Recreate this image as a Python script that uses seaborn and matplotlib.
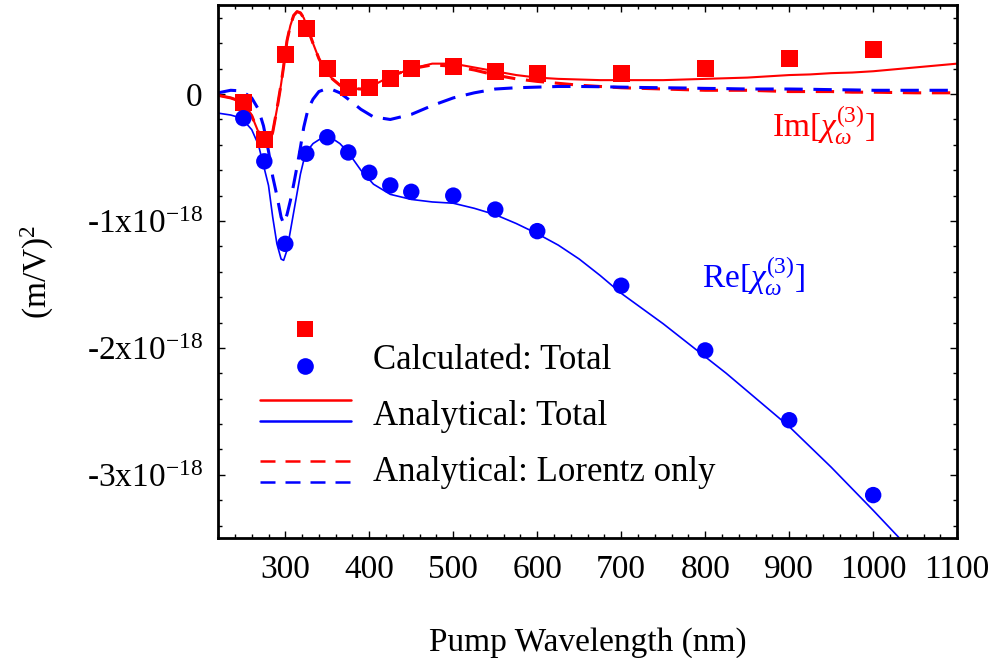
import numpy as np
import pandas as pd
import matplotlib
matplotlib.use("Agg")
import matplotlib.pyplot as plt
import seaborn as sns
from matplotlib.ticker import MultipleLocator, FuncFormatter
from matplotlib.legend_handler import HandlerBase
from matplotlib.lines import Line2D

# values in units of 1e-18 (m/V)^2
calc_wl = [250, 275, 300, 325, 350, 375, 400, 425, 450, 500, 550, 600, 700, 800, 900, 1000]
im_calc = [-0.07, -0.36, 0.31, 0.52, 0.20, 0.05, 0.05, 0.12, 0.20, 0.22, 0.18, 0.16, 0.16, 0.20, 0.28, 0.35]
re_calc = [-0.19, -0.53, -1.18, -0.47, -0.34, -0.46, -0.62, -0.72, -0.77, -0.80, -0.91, -1.08, -1.51, -2.02, -2.57, -3.16]

an_wl = [220, 235, 248, 260, 268, 274, 280, 285, 290, 295, 298, 302, 306, 310, 314, 318, 322, 327,
         333, 340, 348, 356, 365, 375, 390, 405, 425, 450, 475, 500, 525, 550, 575, 600, 625, 650,
         675, 700, 725, 750, 775, 800, 825, 850, 875, 900, 925, 950, 975, 1000, 1050, 1100]
im_total = [-0.01, -0.03, -0.06, -0.17, -0.30, -0.38, -0.40, -0.30, -0.12, 0.08, 0.22, 0.42, 0.54, 0.62,
            0.65, 0.64, 0.60, 0.51, 0.40, 0.28, 0.18, 0.12, 0.07, 0.045, 0.04, 0.07, 0.14, 0.20, 0.24,
            0.24, 0.21, 0.18, 0.15, 0.13, 0.12, 0.115, 0.11, 0.11, 0.11, 0.11, 0.115, 0.12, 0.125, 0.13,
            0.14, 0.15, 0.155, 0.165, 0.17, 0.18, 0.21, 0.24]
im_lorentz = [-0.01, -0.03, -0.06, -0.17, -0.30, -0.38, -0.40, -0.30, -0.12, 0.08, 0.22, 0.42, 0.54, 0.62,
              0.65, 0.64, 0.60, 0.51, 0.40, 0.28, 0.18, 0.12, 0.07, 0.045, 0.04, 0.07, 0.14, 0.20, 0.23,
              0.22, 0.19, 0.15, 0.12, 0.10, 0.085, 0.07, 0.06, 0.05, 0.045, 0.04, 0.035, 0.03, 0.03, 0.03,
              0.025, 0.02, 0.02, 0.02, 0.015, 0.015, 0.01, 0.01]
re_total = [-0.15, -0.165, -0.19, -0.28, -0.40, -0.56, -0.72, -0.97, -1.18, -1.30, -1.31, -1.23, -1.08,
            -0.93, -0.78, -0.63, -0.52, -0.44, -0.39, -0.36, -0.34, -0.35, -0.39, -0.46, -0.60, -0.71,
            -0.79, -0.83, -0.85, -0.86, -0.90, -0.95, -1.02, -1.10, -1.19, -1.30, -1.43, -1.57, -1.69,
            -1.81, -1.94, -2.07, -2.20, -2.34, -2.48, -2.62, -2.78, -2.94, -3.11, -3.28, -3.63, -4.00]
re_lorentz = [0.01, 0.03, 0.025, -0.03, -0.12, -0.25, -0.45, -0.65, -0.80, -0.97, -1.02, -0.95, -0.84,
              -0.71, -0.57, -0.42, -0.26, -0.12, -0.04, 0.02, 0.04, 0.035, 0.01, -0.04, -0.12, -0.18,
              -0.20, -0.16, -0.09, -0.03, 0.01, 0.04, 0.05, 0.055, 0.06, 0.06, 0.058, 0.055, 0.052, 0.05,
              0.048, 0.045, 0.043, 0.04, 0.04, 0.04, 0.038, 0.035, 0.033, 0.03, 0.03, 0.03]

RED = "#ff0000"
BLUE = "#0000ff"

sns.set_style("ticks")
plt.rcParams["font.family"] = ["Liberation Serif", "DejaVu Serif"]
plt.rcParams["mathtext.fontset"] = "custom"
plt.rcParams["mathtext.rm"] = "Liberation Serif"
plt.rcParams["mathtext.it"] = "Liberation Serif:italic"
for key in ["text.color", "axes.labelcolor", "xtick.color", "ytick.color", "axes.edgecolor"]:
    plt.rcParams[key] = "black"

lines = pd.DataFrame({
    "wl": an_wl * 4,
    "val": im_total + im_lorentz + re_total + re_lorentz,
    "part": ["Im"] * len(an_wl) * 2 + ["Re"] * len(an_wl) * 2,
    "model": (["Total"] * len(an_wl) + ["Lorentz"] * len(an_wl)) * 2,
})
calc = pd.DataFrame({"wl": calc_wl, "im": im_calc, "re": re_calc})

fig = plt.figure(figsize=(9.96, 6.58), dpi=100)
ax = fig.add_axes([0.219, 0.182, 0.742, 0.810])

tot = lines[lines.model == "Total"]
lor = lines[lines.model == "Lorentz"]
sns.lineplot(data=tot[tot.part == "Im"], x="wl", y="val", color=RED, lw=1.5,
             estimator=None, sort=False, ax=ax, legend=False)
sns.lineplot(data=tot[tot.part == "Re"], x="wl", y="val", color=BLUE, lw=1.2,
             estimator=None, sort=False, ax=ax, legend=False)
sns.lineplot(data=lor[lor.part == "Im"], x="wl", y="val", color=RED, lw=2.2,
             estimator=None, sort=False, ax=ax, legend=False, dashes=False, linestyle=(0, (6, 3.5)))
sns.lineplot(data=lor[lor.part == "Re"], x="wl", y="val", color=BLUE, lw=2.2,
             estimator=None, sort=False, ax=ax, legend=False, dashes=False, linestyle=(0, (6, 3.5)))
sns.scatterplot(data=calc, x="wl", y="im", marker="s", s=150, color=RED, edgecolor="none",
                ax=ax, legend=False, zorder=3)
sns.scatterplot(data=calc, x="wl", y="re", marker="o", s=140, color=BLUE, edgecolor="none",
                ax=ax, legend=False, zorder=3)

ax.set_xlim(220, 1100)
ax.set_ylim(-3.50, 0.70)
ax.xaxis.set_major_locator(MultipleLocator(100))
ax.xaxis.set_minor_locator(MultipleLocator(20))
ax.yaxis.set_major_locator(MultipleLocator(1))
ax.yaxis.set_minor_locator(MultipleLocator(0.2))


def ylab(v, pos):
    if abs(v) < 1e-9:
        return "0"
    return "-%dx10$^{-18}$" % round(-v)


ax.yaxis.set_major_formatter(FuncFormatter(ylab))
ax.tick_params(which="both", direction="in", top=True, right=True, width=1, colors="black",
               labelsize=24)
ax.tick_params(which="major", length=5)
ax.tick_params(which="minor", length=3)
ax.tick_params(axis="y", which="major", pad=11)
ax.tick_params(axis="x", which="major", pad=12)
for sp in ax.spines.values():
    sp.set_linewidth(2)
    sp.set_color("black")

ax.set_xlabel("Pump Wavelength (nm)", fontsize=24, labelpad=30)
ax.set_ylabel("(m/V)$^2$", fontsize=24, labelpad=22)

ax.text(880, -0.34, r"Im[$\chi_{\omega}^{(3)}$]", color=RED, fontsize=24)
ax.text(796, -1.53, r"Re[$\chi_{\omega}^{(3)}$]", color=BLUE, fontsize=24)


class Stack:
    def __init__(self, handles, offsets):
        self.handles = handles
        self.offsets = offsets


class StackHandler(HandlerBase):
    def create_artists(self, legend, orig_handle, xdescent, ydescent, width, height, fontsize, trans):
        arts = []
        yc = (height - ydescent) / 2
        for h, off in zip(orig_handle.handles, orig_handle.offsets):
            if h.get_marker() not in (None, "None", "", " "):
                a = Line2D([width / 2 - xdescent], [yc + off], linestyle="none")
            else:
                a = Line2D([-xdescent, width - xdescent], [yc + off, yc + off])
            a.update_from(h)
            a.set_transform(trans)
            arts.append(a)
        return arts


sq = Line2D([], [], marker="s", ls="none", color=RED, markersize=12, markeredgewidth=0)
ci = Line2D([], [], marker="o", ls="none", color=BLUE, markersize=12, markeredgewidth=0)
rl = Line2D([], [], color=RED, lw=1.8)
bl = Line2D([], [], color=BLUE, lw=1.8)
rd = Line2D([], [], color=RED, lw=1.8, ls=(0, (6, 4)))
bd = Line2D([], [], color=BLUE, lw=1.8, ls=(0, (6, 4)))

leg = ax.legend([Stack([sq, ci], [20, -7]), Stack([rl, bl], [9, -6]), Stack([rd, bd], [6, -9.5])],
                ["Calculated: Total", "Analytical: Total", "Analytical: Lorentz only"],
                handler_map={Stack: StackHandler()}, loc="upper left",
                bbox_to_anchor=(0.057, 0.365), frameon=False, fontsize=25,
                handlelength=2.6, handletextpad=0.65, labelspacing=0.67, borderpad=0,
                borderaxespad=0)

fig.savefig("out.png", dpi=100)
